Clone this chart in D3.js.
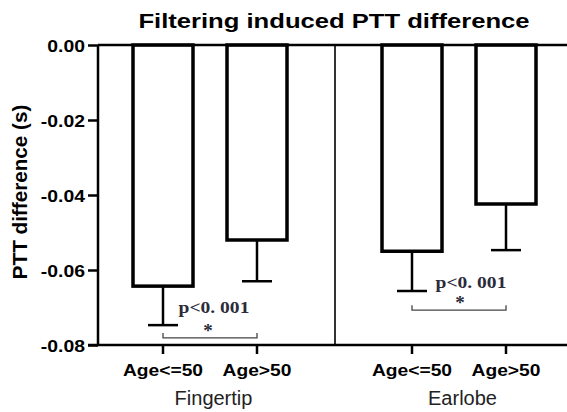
<!DOCTYPE html>
<html>
<head>
<meta charset="UTF-8">
<title>Filtering induced PTT difference</title>
<script src="https://cdn.jsdelivr.net/npm/d3@7"></script>
<style>
  body { margin: 0; background: #fff; }
  svg { display: block; font-family: "Liberation Sans", Arial, sans-serif; }
  .tick text { font-family: "Liberation Sans", Arial, sans-serif; font-size: 17px; font-weight: bold; fill: #000; }
  .pval { font-family: "Liberation Serif", "DejaVu Serif", serif; font-weight: bold; fill: #2b2b3a; }
</style>
</head>
<body>
<svg id="chart" width="567" height="412"></svg>
<script>
  // data
  const sites = ["Fingertip", "Earlobe"];
  const ages = ["Age<=50", "Age>50"];
  const means = { Fingertip: [-0.0643, -0.0520], Earlobe: [-0.0550, -0.0424] };
  const sds = { Fingertip: [0.0104, 0.0110], Earlobe: [0.0106, 0.0123] };
  const pLabels = ["p<0. 001", "p<0. 001"];
  const bracketLevels = [-0.0781, -0.0707];
  const yTicks = [0, -0.02, -0.04, -0.06, -0.08];

  const svg = d3.select("#chart");
  const W = 567;
  const mLeft = 98, mTop = 45, mBottom = 345;

  const x0 = d3.scaleBand().domain(sites).range([86, 584]);
  const x1 = d3.scalePoint().domain(ages).range([77, 171]);
  const y = d3.scaleLinear().domain([0, -0.08]).range([mTop, mBottom]);
  const barW = 60;
  const cx = (s, a) => x0(s) + x1(a);

  // widen glyphs horizontally (the source image is stretched)
  function stretch(sel, k) {
    sel.each(function () {
      const w = this.getComputedTextLength();
      d3.select(this).attr("textLength", w * k).attr("lengthAdjust", "spacingAndGlyphs");
    });
  }

  // title
  svg.append("text")
    .attr("x", 334).attr("y", 28)
    .attr("text-anchor", "middle")
    .style("font-size", "20px").style("font-weight", "bold")
    .text("Filtering induced PTT difference")
    .call(stretch, 1.28);

  // y axis
  const fmt = d => d3.format(".2f")(d).replace("\u2212", "-");
  const yAxis = svg.append("g")
    .attr("transform", `translate(${mLeft},0)`)
    .call(d3.axisLeft(y).tickValues(yTicks).tickFormat(fmt).tickSize(10).tickPadding(3));
  yAxis.selectAll("path, line").attr("stroke", "#000").attr("stroke-width", 2.5);
  yAxis.select(".domain").attr("d", `M0,${y(0)}V${y(-0.08)}`);
  yAxis.selectAll(".tick text").attr("dy", "0.4em").call(stretch, 1.14);

  svg.append("text")
    .attr("transform", `translate(27,${(mTop + mBottom) / 2 - 3}) rotate(-90)`)
    .attr("text-anchor", "middle")
    .style("font-size", "19.5px").style("font-weight", "bold")
    .text("PTT difference (s)")
    .call(stretch, 1.06);

  // separator between groups
  svg.append("line")
    .attr("x1", x0("Earlobe")).attr("x2", x0("Earlobe"))
    .attr("y1", y(0)).attr("y2", y(-0.08))
    .attr("stroke", "#333").attr("stroke-width", 2);

  // bars + error bars
  sites.forEach(s => {
    ages.forEach((a, i) => {
      const c = cx(s, a), m = means[s][i], e = m - sds[s][i];
      svg.append("line")
        .attr("x1", c).attr("x2", c).attr("y1", y(m)).attr("y2", y(e))
        .attr("stroke", "#000").attr("stroke-width", 2.5);
      svg.append("line")
        .attr("x1", c - 15).attr("x2", c + 15).attr("y1", y(e)).attr("y2", y(e))
        .attr("stroke", "#000").attr("stroke-width", 2.5);
      svg.append("rect")
        .attr("x", c - barW / 2).attr("y", y(0))
        .attr("width", barW).attr("height", y(m) - y(0))
        .attr("fill", "#fff").attr("stroke", "#000").attr("stroke-width", 3.5);
    });
  });

  // zero line
  svg.append("line")
    .attr("x1", mLeft).attr("x2", W).attr("y1", y(0)).attr("y2", y(0))
    .attr("stroke", "#000").attr("stroke-width", 2.5);

  // bottom axis
  const xg = svg.append("g").attr("transform", `translate(0,${mBottom})`);
  xg.append("line").attr("x1", mLeft - 10).attr("x2", W).attr("stroke", "#000").attr("stroke-width", 2.5);
  sites.forEach(s => {
    ages.forEach(a => {
      const c = cx(s, a);
      xg.append("line").attr("x1", c).attr("x2", c).attr("y1", 0).attr("y2", 9)
        .attr("stroke", "#000").attr("stroke-width", 2.5);
      xg.append("text").attr("x", c).attr("y", 31).attr("text-anchor", "middle")
        .style("font-size", "16px").style("font-weight", "bold").text(a)
        .call(stretch, 1.2);
    });
    xg.append("text").attr("x", x0(s) + x0.bandwidth() / 2 + 3).attr("y", 60)
      .attr("text-anchor", "middle").style("font-size", "20px").attr("fill", "#222").text(s);
  });

  // significance brackets
  const pOffset = [4, 12], starOffset = [-2, 1], pGap = [25, 22];
  sites.forEach((s, i) => {
    const a = cx(s, ages[0]), b = cx(s, ages[1]), by = y(bracketLevels[i]);
    svg.append("path")
      .attr("d", `M${a},${by - 5}V${by}H${b}V${by - 5}`)
      .attr("fill", "none").attr("stroke", "#444").attr("stroke-width", 1.3);
    const mid = (a + b) / 2;
    svg.append("text").attr("class", "pval")
      .attr("x", mid + pOffset[i]).attr("y", by - pGap[i])
      .attr("text-anchor", "middle").style("font-size", "16px").text(pLabels[i])
      .call(stretch, 1.22);
    svg.append("text").attr("class", "pval")
      .attr("x", mid + starOffset[i]).attr("y", by - 1)
      .attr("text-anchor", "middle").style("font-size", "19px").attr("fill", "#222").text("*");
  });
</script>
</body>
</html>
